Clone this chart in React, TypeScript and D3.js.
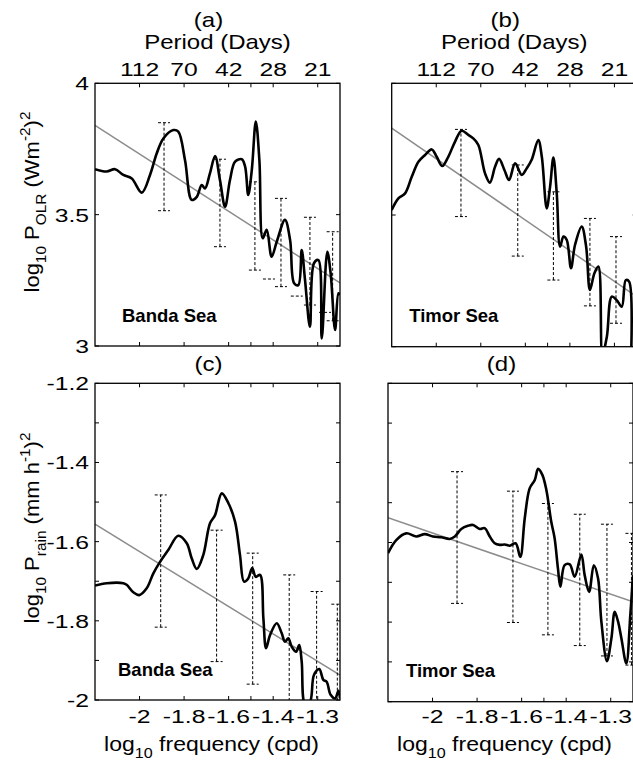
import React from 'react';
import * as d3 from 'd3';

// ---------- data ----------
const xTickValues = [-2, -1.8, -1.6, -1.5, -1.4, -1.2];
const xTickLabels = ['-2', '-1.8', '-1.6', '', '-1.4', '-1.3'];
const periodLabels = ['112', '70', '42', '', '28', '21'];
const olrTicks = [3, 3.5, 4];
const olrTickLabels = ['3', '3.5', '4'];
const rainTicks = [-2, -1.9, -1.8, -1.7, -1.6, -1.5, -1.4, -1.3, -1.2];
const rainTickLabels = ['-2', '', '-1.8', '', '-1.6', '', '-1.4', '', '-1.2'];

const bandaOlr: [number, number][] = [
  [-2.2, 3.673], [-2.148, 3.664], [-2.11, 3.673], [-2.073, 3.651], [-2.035, 3.638], [-1.99, 3.584],
  [-1.953, 3.651], [-1.923, 3.733], [-1.893, 3.79], [-1.848, 3.822], [-1.826, 3.816], [-1.796, 3.708],
  [-1.766, 3.556], [-1.743, 3.568], [-1.721, 3.613], [-1.706, 3.6], [-1.684, 3.657], [-1.661, 3.723],
  [-1.639, 3.632], [-1.616, 3.53], [-1.594, 3.632], [-1.571, 3.702], [-1.541, 3.711], [-1.526, 3.683],
  [-1.512, 3.575], [-1.496, 3.67], [-1.478, 3.854], [-1.462, 3.708], [-1.447, 3.41], [-1.429, 3.442],
  [-1.407, 3.34], [-1.384, 3.397], [-1.347, 3.48], [-1.324, 3.403], [-1.306, 3.239], [-1.287, 3.232],
  [-1.272, 3.365], [-1.257, 3.251], [-1.235, 3.073], [-1.217, 3.315], [-1.197, 3.327], [-1.182, 3.029],
  [-1.157, 3.359], [-1.142, 3.277], [-1.122, 3.061], [-1.107, 3.201], [-1.1, 3.194],
];
const timorOlr: [number, number][] = [
  [-2.2, 3.519], [-2.17, 3.563], [-2.14, 3.582], [-2.11, 3.645], [-2.08, 3.702], [-2.05, 3.728],
  [-2.02, 3.749], [-1.998, 3.721], [-1.973, 3.686], [-1.946, 3.721], [-1.916, 3.778], [-1.886, 3.82],
  [-1.856, 3.804], [-1.834, 3.791], [-1.811, 3.766], [-1.781, 3.658], [-1.759, 3.623], [-1.736, 3.683],
  [-1.718, 3.713], [-1.694, 3.671], [-1.673, 3.633], [-1.646, 3.696], [-1.616, 3.652], [-1.594, 3.677],
  [-1.571, 3.711], [-1.542, 3.785], [-1.526, 3.721], [-1.504, 3.525], [-1.489, 3.607], [-1.474, 3.718],
  [-1.459, 3.582], [-1.444, 3.38], [-1.429, 3.418], [-1.414, 3.405], [-1.395, 3.298], [-1.377, 3.386],
  [-1.347, 3.456], [-1.327, 3.38], [-1.31, 3.215], [-1.29, 3.279], [-1.272, 3.304], [-1.254, 2.97],
  [-1.234, 3.038], [-1.212, 3.19], [-1.19, 3.177], [-1.167, 3.152], [-1.149, 3.253], [-1.134, 3.247],
  [-1.125, 2.97],
];
const bandaRain: [number, number][] = [
  [-2.2, -1.711], [-2.147, -1.705], [-2.073, -1.705], [-2.058, -1.709], [-2.028, -1.728], [-2.001, -1.735],
  [-1.968, -1.718], [-1.938, -1.68], [-1.908, -1.651], [-1.871, -1.621], [-1.826, -1.585], [-1.788, -1.604],
  [-1.766, -1.642], [-1.743, -1.669], [-1.714, -1.634], [-1.684, -1.554], [-1.661, -1.533], [-1.631, -1.478],
  [-1.601, -1.503], [-1.571, -1.55], [-1.549, -1.634], [-1.531, -1.701], [-1.512, -1.693], [-1.494, -1.667],
  [-1.478, -1.689], [-1.459, -1.684], [-1.444, -1.794], [-1.432, -1.869], [-1.414, -1.836], [-1.384, -1.806],
  [-1.362, -1.831], [-1.347, -1.853], [-1.332, -1.844], [-1.317, -1.865], [-1.297, -1.878], [-1.283, -1.861],
  [-1.272, -1.903], [-1.257, -2.01], [-1.235, -2.005], [-1.217, -1.937], [-1.193, -1.922], [-1.175, -1.949],
  [-1.16, -1.954], [-1.142, -1.987], [-1.122, -1.996], [-1.107, -1.977], [-1.1, -1.996],
];
const timorRain: [number, number][] = [
  [-2.2, -1.627], [-2.163, -1.594], [-2.118, -1.577], [-2.073, -1.585], [-2.035, -1.579], [-1.998, -1.585],
  [-1.961, -1.587], [-1.923, -1.591], [-1.9, -1.585], [-1.871, -1.566], [-1.841, -1.558], [-1.818, -1.556],
  [-1.788, -1.566], [-1.766, -1.564], [-1.743, -1.585], [-1.721, -1.602], [-1.698, -1.606], [-1.676, -1.605],
  [-1.653, -1.608], [-1.627, -1.602], [-1.606, -1.636], [-1.586, -1.539], [-1.564, -1.464], [-1.541, -1.443],
  [-1.526, -1.415], [-1.507, -1.43], [-1.489, -1.468], [-1.467, -1.548], [-1.452, -1.589], [-1.437, -1.665],
  [-1.426, -1.711], [-1.407, -1.657], [-1.384, -1.655], [-1.362, -1.686], [-1.332, -1.63], [-1.317, -1.682],
  [-1.297, -1.724], [-1.276, -1.657], [-1.257, -1.69], [-1.242, -1.799], [-1.217, -1.898], [-1.197, -1.841],
  [-1.182, -1.774], [-1.167, -1.799], [-1.152, -1.841], [-1.13, -1.904], [-1.112, -1.782], [-1.1, -1.682],
];

// fitted background lines [x, y]
const bandaOlrFit: [number, number][] = [[-2.2, 3.84], [-1.1, 3.24]];
const timorOlrFit: [number, number][] = [[-2.2, 3.83], [-1.1, 3.19]];
const bandaRainFit: [number, number][] = [[-2.2, -1.556], [-1.1, -1.937]];
const timorRainFit: [number, number][] = [[-2.2, -1.538], [-1.1, -1.749]];

// confidence bars [x, low, high]
const bandaOlrErr: [number, number, number][] = [
  [-1.89, 3.515, 3.85], [-1.639, 3.378, 3.711], [-1.482, 3.289, 3.625],
  [-1.365, 3.226, 3.562], [-1.235, 3.156, 3.49], [-1.133, 3.096, 3.435],
];
const bandaOlrMarks: [number, number][] = [[-1.419, 3.255], [-1.294, 3.19], [-1.167, 3.128]];
const timorOlrErr: [number, number, number][] = [
  [-1.889, 3.494, 3.825], [-1.634, 3.344, 3.69], [-1.474, 3.253, 3.588],
  [-1.31, 3.155, 3.487], [-1.193, 3.089, 3.418],
];
const bandaRainErr: [number, number, number][] = [
  [-1.905, -1.816, -1.482], [-1.654, -1.903, -1.571], [-1.492, -1.96, -1.629],
  [-1.328, -2.015, -1.684], [-1.205, -2.06, -1.726], [-1.112, -2.09, -1.758],
];
const timorRainErr: [number, number, number][] = [
  [-1.89, -1.753, -1.422], [-1.639, -1.801, -1.471], [-1.482, -1.832, -1.502],
  [-1.339, -1.859, -1.529], [-1.217, -1.885, -1.554], [-1.107, -1.908, -1.577],
];

// ---------- layout ----------
const FONT = "'Liberation Sans', Arial, Helvetica, sans-serif";
const TICK_SIZE = 19;
const TICK_SX = 1.3;
const LABEL_SIZE = 20;
const LABEL_SX = 1.2;

type PanelDef = {
  id: string;
  left: number; top: number; width: number; height: number;
  yDomain: [number, number];
  yTicks: number[]; yTickLabels: string[] | null;
  curve: [number, number][]; fit: [number, number][];
  err: [number, number, number][]; marks: [number, number][];
  title: string; region: string; regionDx: number;
  topAxis: boolean; bottomAxis: boolean;
};

const panels: PanelDef[] = [
  { id: 'a', left: 95, top: 83.3, width: 245, height: 262.7, yDomain: [3, 4], yTicks: olrTicks, yTickLabels: olrTickLabels,
    curve: bandaOlr, fit: bandaOlrFit, err: bandaOlrErr, marks: bandaOlrMarks, title: '(a)', region: 'Banda Sea', regionDx: 27,
    topAxis: true, bottomAxis: false },
  { id: 'b', left: 391.7, top: 83.3, width: 245, height: 263.4, yDomain: [3, 4], yTicks: olrTicks, yTickLabels: null,
    curve: timorOlr, fit: timorOlrFit, err: timorOlrErr, marks: [], title: '(b)', region: 'Timor Sea', regionDx: 17.5,
    topAxis: true, bottomAxis: false },
  { id: 'c', left: 95, top: 383.3, width: 245, height: 316.7, yDomain: [-2, -1.2], yTicks: rainTicks, yTickLabels: rainTickLabels,
    curve: bandaRain, fit: bandaRainFit, err: bandaRainErr, marks: [], title: '(c)', region: 'Banda Sea', regionDx: 23,
    topAxis: false, bottomAxis: true },
  { id: 'd', left: 388, top: 383.3, width: 245, height: 318.4, yDomain: [-2, -1.2], yTicks: rainTicks, yTickLabels: null,
    curve: timorRain, fit: timorRainFit, err: timorRainErr, marks: [], title: '(d)', region: 'Timor Sea', regionDx: 18,
    topAxis: false, bottomAxis: true },
];

function Txt(props: { x: number; y: number; size: number; sx?: number; anchor?: string; weight?: string; rotate?: number; children: React.ReactNode }) {
  const { x, y, size, sx = 1, anchor = 'middle', weight = 'normal', rotate = 0, children } = props;
  return (
    <text transform={`translate(${x},${y}) rotate(${rotate}) scale(${sx},1)`} fontSize={size} textAnchor={anchor}
      fontWeight={weight} fontFamily={FONT} fill="#000">{children}</text>
  );
}

function Panel({ p }: { p: PanelDef }) {
  const x = d3.scaleLinear().domain([-2.2, -1.1]).range([p.left, p.left + p.width]);
  const y = d3.scaleLinear().domain(p.yDomain).range([p.top + p.height, p.top]);
  const line = d3.line<[number, number]>().x(d => x(d[0])).y(d => y(d[1])).curve(d3.curveCatmullRom.alpha(0.5));
  const straight = d3.line<[number, number]>().x(d => x(d[0])).y(d => y(d[1]));
  const bottom = p.top + p.height;
  const right = p.left + p.width;
  const tl = 4;
  const cx = p.left + p.width / 2;
  const clipId = `clip-${p.id}`;
  return (
    <g>
      <defs>
        <clipPath id={clipId}><rect x={p.left} y={p.top} width={p.width} height={p.height} /></clipPath>
      </defs>
      <g clipPath={`url(#${clipId})`}>
        <path d={straight(p.fit) || ''} stroke="#8c8c8c" strokeWidth={1.5} fill="none" />
        {p.err.map((e, i) => (
          <g key={i} stroke="#000" strokeWidth={1} strokeDasharray="3,2" fill="none">
            <line x1={x(e[0])} x2={x(e[0])} y1={y(e[1])} y2={y(e[2])} />
            <line x1={x(e[0]) - 6} x2={x(e[0]) + 6} y1={y(e[2])} y2={y(e[2])} />
            <line x1={x(e[0]) - 6} x2={x(e[0]) + 6} y1={y(e[1])} y2={y(e[1])} />
          </g>
        ))}
        {p.marks.map((m, i) => (
          <line key={i} x1={x(m[0]) - 6} x2={x(m[0]) + 6} y1={y(m[1])} y2={y(m[1])} stroke="#000" strokeWidth={1} strokeDasharray="3,2" />
        ))}
        <path d={line(p.curve) || ''} stroke="#000" strokeWidth={2.6} fill="none" strokeLinejoin="round" />
      </g>
      {/* ticks */}
      <g stroke="#000" strokeWidth={1}>
        {xTickValues.map((v, i) => (
          <g key={i}>
            <line x1={x(v)} x2={x(v)} y1={bottom} y2={bottom - tl} />
            <line x1={x(v)} x2={x(v)} y1={p.top} y2={p.top + tl} />
          </g>
        ))}
        {p.yTicks.map((v, i) => (
          <g key={i}>
            <line x1={p.left} x2={p.left + tl} y1={y(v)} y2={y(v)} />
            <line x1={right} x2={right - tl} y1={y(v)} y2={y(v)} />
          </g>
        ))}
      </g>
      <rect x={p.left} y={p.top} width={p.width} height={p.height} fill="none" stroke="#000" strokeWidth={1.3} />
      {/* y tick labels */}
      {p.yTickLabels && p.yTicks.map((v, i) => p.yTickLabels![i] ? (
        <Txt key={i} x={p.left - 6} y={y(v) + 7} size={TICK_SIZE} sx={TICK_SX} anchor="end">{p.yTickLabels![i]}</Txt>
      ) : null)}
      {/* top period labels */}
      {p.topAxis && xTickValues.map((v, i) => periodLabels[i] ? (
        <Txt key={i} x={x(v)} y={p.top - 7} size={TICK_SIZE} sx={TICK_SX}>{periodLabels[i]}</Txt>
      ) : null)}
      {p.topAxis && <Txt x={cx} y={p.top - 34} size={LABEL_SIZE} sx={LABEL_SX}>Period (Days)</Txt>}
      {/* bottom labels */}
      {p.bottomAxis && xTickValues.map((v, i) => xTickLabels[i] ? (
        <Txt key={i} x={x(v)} y={723} size={TICK_SIZE} sx={TICK_SX}>{xTickLabels[i]}</Txt>
      ) : null)}
      {p.bottomAxis && (
        <Txt x={cx - 6} y={751} size={LABEL_SIZE} sx={1.15}>
          <tspan>log</tspan><tspan fontSize={14} dy={7}>10</tspan><tspan dy={-7}> frequency (cpd)</tspan>
        </Txt>
      )}
      {/* title */}
      <Txt x={cx - 9} y={p.topAxis ? p.top - 56 : p.top - 12} size={LABEL_SIZE} sx={LABEL_SX}>{p.title}</Txt>
      {/* region */}
      <Txt x={p.left + p.regionDx} y={bottom - 24.5} size={18.5} anchor="start" weight="bold">{p.region}</Txt>
    </g>
  );
}

export default function App() {
  return (
    <svg width={633} height={762} style={{ position: 'absolute', left: 0, top: 0, background: '#fff' }}>
      <rect width={633} height={762} fill="#fff" />
      {panels.map(p => <Panel key={p.id} p={p} />)}
      <Txt x={39} y={202} size={LABEL_SIZE} sx={1.1} rotate={-90}>
        <tspan>log</tspan><tspan fontSize={14} dy={7}>10</tspan><tspan dy={-7}> P</tspan><tspan fontSize={14} dy={7}>OLR</tspan>
        <tspan dy={-7}> (Wm</tspan><tspan fontSize={14} dy={-9}>-2</tspan><tspan dy={9}>)</tspan><tspan fontSize={14} dy={-9}>2</tspan>
      </Txt>
      <Txt x={39} y={528} size={LABEL_SIZE} sx={1.1} rotate={-90}>
        <tspan>log</tspan><tspan fontSize={14} dy={7}>10</tspan><tspan dy={-7}> P</tspan><tspan fontSize={14} dy={7}>rain</tspan>
        <tspan dy={-7}> (mm h</tspan><tspan fontSize={14} dy={-9}>-1</tspan><tspan dy={9}>)</tspan><tspan fontSize={14} dy={-9}>2</tspan>
      </Txt>
    </svg>
  );
}
